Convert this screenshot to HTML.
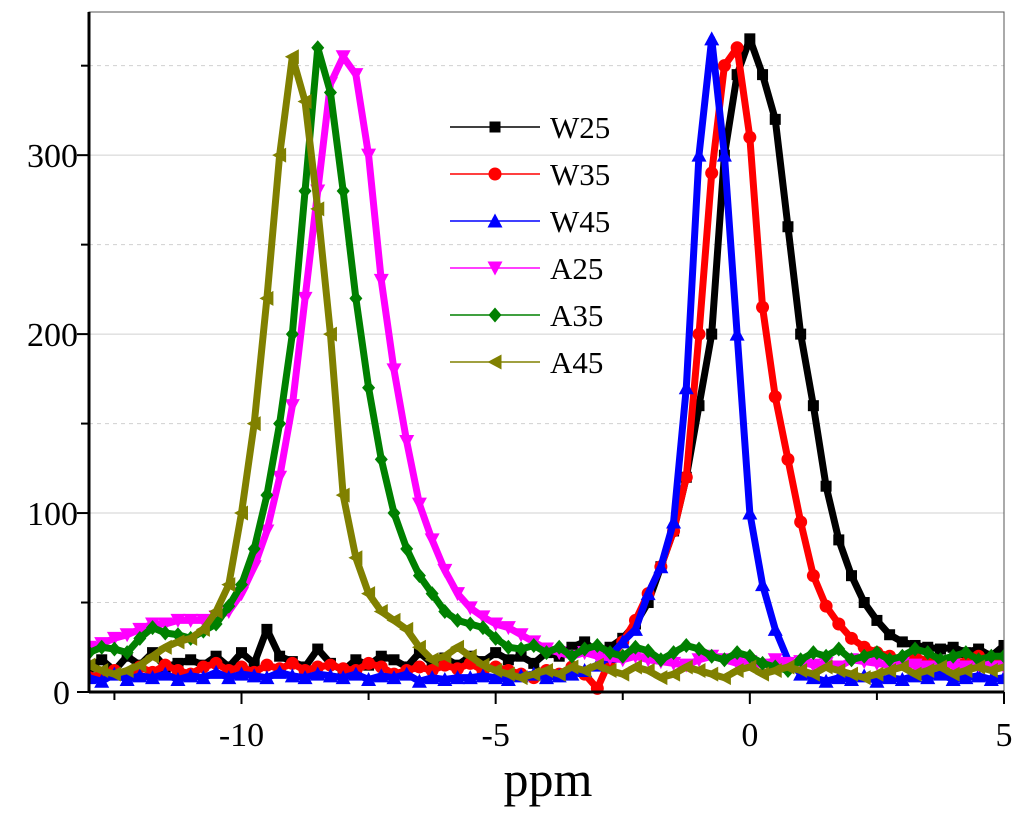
<!DOCTYPE html>
<html><head><meta charset="utf-8"><style>
html,body{margin:0;padding:0;background:#fff;}
svg{display:block;font-family:"Liberation Serif",serif;}
</style></head><body>
<svg id="chart" width="1024" height="819" viewBox="0 0 1024 819"></svg>
<script>
const xStart=-13, xStep=0.25;
const W25=[14,18,12,20, 15,22,14,16, 18,15,20,14, 22,16,35,20, 17,14,24,16, 12,18,15,20, 18,14,22,16, 19,15,20,17, 22,18,20,16, 22,20,25,28, 22,25,30,38, 50,70,90,120, 160,200,300,345, 365,345,320,260, 200,160,115,85, 65,50,40,32, 28,26,25,24, 25,22,24,20, 26];
const W35=[8,10,12,9, 14,11,15,12, 10,14,16,12, 14,11,15,13, 16,12,14,15, 13,12,16,14, 10,12,14,12, 15,13,16,12, 14,12,10,8, 12,10,14,10, 2,18,28,40, 55,70,90,120, 200,290,350,360, 310,215,165,130, 95,65,48,38, 30,25,22,20, 18,20,17,15, 18,16,20,18, 16];
const W45=[8,6,10,7, 9,8,10,7, 9,8,11,8, 10,9,8,11, 9,8,10,9, 8,10,7,9, 8,10,6,8, 7,8,8,9, 8,7,9,10, 8,9,10,12, 15,20,28,35, 55,70,95,170, 300,365,300,200, 100,60,35,18, 10,8,6,8, 7,9,6,8, 7,9,8,10, 7,8,9,7, 8];
const A25=[25,27,30,32, 35,38,38,40, 40,40,42,45, 55,70,90,120, 160,220,280,340, 355,345,300,230, 180,140,105,85, 68,55,47,42, 38,36,32,28, 24,22,20,22, 20,19,18,20, 18,17,16,15, 18,20,18,16, 17,15,18,16, 17,15,16,14, 18,17,16,15, 16,15,14,16, 15,14,15,14, 14];
const A35=[22,25,24,22, 30,36,33,32, 30,34,38,48, 60,80,110,150, 200,280,360,335, 280,220,170,130, 100,80,65,55, 45,40,38,36, 30,25,24,26, 22,25,20,24, 26,22,20,25, 23,18,22,26, 24,20,18,22, 20,16,14,12, 18,22,20,24, 18,20,22,18, 20,24,22,18, 20,22,18,20, 20];
const A45=[15,12,10,12, 15,20,25,28, 30,35,45,60, 100,150,220,300, 355,330,270,200, 110,75,55,45, 40,35,25,18, 20,25,20,15, 12,10,8,10, 12,10,14,12, 15,12,10,14, 12,8,10,14, 12,10,8,12, 14,10,12,14, 12,10,14,12, 10,8,10,12, 14,10,12,14, 10,12,14,12, 14];
const names=["W25","W35","W45","A25","A35","A45"];
const seriesData=[W25,W35,W45,A25,A35,A45];
const colors=["#000","#ff0000","#0000ff","#ff00ff","#008000","#808000"];
const shapes=["square","circle","up","down","diamond","left"];
const xTicks=[-10,-5,0,5];
const yTicks=[0,100,200,300];
const X0=89,X1=1004,Y0=692,Y1=12,xmin=-13,xmax=5,ymin=0,ymax=380;
const sx=v=>X0+(v-xmin)/(xmax-xmin)*(X1-X0);
const sy=v=>Y0-(v-ymin)/(ymax-ymin)*(Y0-Y1);
const NS="http://www.w3.org/2000/svg";
const svg=document.getElementById('chart');
function mk(t,a,p){const e=document.createElementNS(NS,t);for(const k in a)e.setAttribute(k,a[k]);(p||svg).appendChild(e);return e;}
for(let v=50;v<=350;v+=50){
  const g=mk('line',{x1:X0,x2:X1,y1:sy(v),y2:sy(v),stroke:'#d0d0d0','stroke-width':1,'stroke-dasharray':v%100?'4,4':''});
  
  
}
const defs=mk('defs',{});const cp=mk('clipPath',{id:'cp'},defs);mk('rect',{x:X0,y:Y1,width:X1-X0,height:Y0-Y1+8},cp);
function marker(g,shape,x,y,c){
  const s=6.5;let e;
  if(shape==='square')e=mk('rect',{x:x-s+1,y:y-s+1,width:2*s-2,height:2*s-2,fill:c},g);
  else if(shape==='circle')e=mk('circle',{cx:x,cy:y,r:s,fill:c},g);
  else{let p;
    if(shape==='up')p=[[x,y-s-1],[x+s+1,y+s],[x-s-1,y+s]];
    if(shape==='down')p=[[x,y+s+1],[x+s+1,y-s],[x-s-1,y-s]];
    if(shape==='diamond')p=[[x,y-s-1],[x+s,y],[x,y+s+1],[x-s,y]];
    if(shape==='left')p=[[x-s-1,y],[x+s,y-s-1],[x+s,y+s+1]];
    e=mk('polygon',{points:p.map(q=>q.join(',')).join(' '),fill:c},g);}
  return e;
}
seriesData.forEach((arr,si)=>{
  const g=mk('g',{'clip-path':'url(#cp)'});
  
  
  const pts=arr.map((v,i)=>[sx(xStart+i*xStep),sy(v)]);
  const pl=mk('polyline',{points:pts.map(p=>p.join(',')).join(' '),fill:'none',stroke:colors[si],'stroke-width':7,'stroke-linejoin':'round'},g);
  
  
  pts.forEach(p=>{const m=marker(g,shapes[si],p[0],p[1],colors[si]);
    
    });
});
const fr=mk('rect',{x:X0,y:Y1,width:X1-X0,height:Y0-Y1,fill:'none',stroke:'#555','stroke-width':1});

const la=mk('line',{x1:X0,x2:X0,y1:Y1,y2:Y0+1,stroke:'#000','stroke-width':3});

const ba=mk('line',{x1:X0,x2:X1,y1:Y0,y2:Y0,stroke:'#000','stroke-width':3});

for(let v=-12.5;v<=5;v+=2.5){
  const major=xTicks.includes(v);
  const t=mk('line',{x1:sx(v),x2:sx(v),y1:Y0,y2:Y0+(major?12:8),stroke:'#000','stroke-width':2});
  
}
xTicks.forEach(v=>{const t=mk('text',{x:sx(v),y:746,'font-size':34,'text-anchor':'middle'});t.textContent=v;
  });
for(let v=0;v<=350;v+=50){
  const t=mk('line',{x1:X0-(v%100?8:12),x2:X0,y1:sy(v),y2:sy(v),stroke:'#000','stroke-width':2});
  
}
yTicks.forEach(v=>{const t=mk('text',{x:v===0?70:78,y:sy(v)+12,'font-size':34,'text-anchor':'end'});t.textContent=v;
  });
const xt=mk('text',{x:548,y:796,'font-size':50,'text-anchor':'middle'});xt.textContent='ppm';

names.forEach((n,i)=>{
  const y=127+i*47;
  const g=mk('g',{});
  
  
  mk('line',{x1:450,x2:540,y1:y,y2:y,stroke:colors[i],'stroke-width':1.5},g);
  marker(g,shapes[i],495,y,colors[i]);
  const t=mk('text',{x:550,y:y+11,'font-size':31},g);t.textContent=n;
});
</script>
</body></html>
